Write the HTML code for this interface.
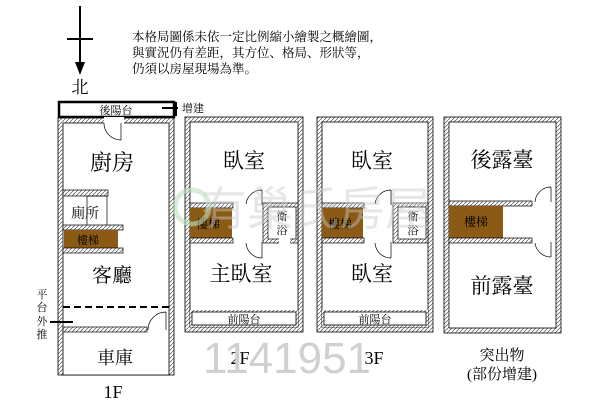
<!DOCTYPE html>
<html><head><meta charset="utf-8"><style>
html,body{margin:0;padding:0;background:#fff;width:600px;height:412px;overflow:hidden}
svg{display:block}
text{font-family:"Liberation Serif","Noto Serif CJK SC","Noto Sans CJK TC",serif;fill:#000}
</style></head><body>
<svg width="600" height="412" viewBox="0 0 600 412" xmlns="http://www.w3.org/2000/svg">
<defs>
<pattern id="h" width="4" height="4" patternUnits="userSpaceOnUse">
<rect width="4" height="4" fill="#fff"/>
<path d="M0,4 L4,0" stroke="#555" stroke-width="0.7"/>
</pattern>
</defs>

<line x1="80" y1="6" x2="80" y2="64" stroke="#000" stroke-width="2"/>
<line x1="67" y1="39" x2="93" y2="39" stroke="#000" stroke-width="2"/>
<polygon points="75,62 85,62 80,75" fill="#000"/>
<text x="80" y="93" font-size="17" text-anchor="middle">北</text>

<text x="132" y="41" font-size="12.5">本格局圖係未依一定比例縮小繪製之概繪圖，</text>
<text x="132" y="57" font-size="12.5">與實況仍有差距，其方位、格局、形狀等，</text>
<text x="132" y="73" font-size="12.5">仍須以房屋現場為準。</text>

<!-- 1F -->
<rect x="59" y="102" width="115" height="15" fill="#fff" stroke="#000" stroke-width="2.5"/>
<text x="116" y="114" font-size="11" text-anchor="middle">後陽台</text>
<line x1="162" y1="108" x2="178" y2="108" stroke="#000" stroke-width="2"/>
<line x1="176" y1="102" x2="176" y2="116" stroke="#000" stroke-width="2"/>
<text x="182" y="112" font-size="11">增建</text>

<rect x="58" y="118" width="116" height="257" fill="url(#h)" stroke="#000" stroke-width="0.8"/>
<rect x="63" y="123" width="106" height="252" fill="#fff" stroke="#000" stroke-width="0.8"/>
<rect x="104" y="117" width="20" height="7" fill="#fff"/>
<path d="M121,123 L121,140 A17,17 0 0 1 104,123" fill="none" stroke="#000" stroke-width="0.7"/>
<rect x="63" y="190" width="45" height="6" fill="url(#h)" stroke="#000" stroke-width="0.7"/>
<rect x="87" y="196" width="20" height="30" fill="none" stroke="#000" stroke-width="0.7"/>
<rect x="63" y="225" width="60" height="5" fill="url(#h)" stroke="#000" stroke-width="0.7"/>
<rect x="64" y="230" width="54" height="18" fill="#8b5a14"/>
<rect x="63" y="248" width="60" height="5" fill="url(#h)" stroke="#000" stroke-width="0.7"/>
<text x="85" y="218" font-size="14" text-anchor="middle">廁所</text>
<text x="88" y="244" font-size="11" text-anchor="middle">樓梯</text>
<text x="112" y="170" font-size="22" text-anchor="middle">廚房</text>
<text x="112" y="282" font-size="20" text-anchor="middle">客廳</text>
<line x1="63" y1="307" x2="169" y2="307" stroke="#000" stroke-width="2" stroke-dasharray="7,4"/>
<rect x="63" y="327" width="84" height="5" fill="url(#h)" stroke="#000" stroke-width="0.7"/>
<path d="M166,312 L166,330 M166,312 A18,18 0 0 0 148,330" fill="none" stroke="#000" stroke-width="0.7"/>
<line x1="50" y1="322" x2="73" y2="322" stroke="#000" stroke-width="2"/>
<text x="115" y="364" font-size="18" text-anchor="middle">車庫</text>
<text x="42" y="298" font-size="11" text-anchor="middle">平</text>
<text x="42" y="311" font-size="11" text-anchor="middle">台</text>
<text x="42" y="325" font-size="11" text-anchor="middle">外</text>
<text x="42" y="338" font-size="11" text-anchor="middle">推</text>
<text x="113" y="398" font-size="18" text-anchor="middle">1F</text>

<!-- 2F -->
<rect x="185" y="117" width="118" height="215" fill="url(#h)" stroke="#000" stroke-width="0.8"/>
<rect x="190" y="122" width="108" height="205" fill="#fff" stroke="#000" stroke-width="0.8"/>
<rect x="190" y="310" width="108" height="17" fill="url(#h)"/>
<rect x="192" y="312" width="104" height="13" fill="#fff" stroke="#000" stroke-width="0.8"/>
<text x="244" y="323" font-size="11" text-anchor="middle">前陽台</text>
<rect x="190" y="203" width="43" height="5" fill="url(#h)" stroke="#000" stroke-width="0.7"/>
<rect x="190" y="208" width="42" height="30" fill="#8b5a14"/>
<rect x="190" y="238" width="43" height="5" fill="url(#h)" stroke="#000" stroke-width="0.7"/>
<rect x="263" y="203" width="35" height="40" fill="url(#h)" stroke="#000" stroke-width="0.7"/>
<rect x="268" y="207" width="28" height="32" fill="#fff" stroke="#000" stroke-width="0.7"/>
<rect x="279" y="238" width="11" height="6" fill="#fff"/>
<path d="M262,190 L262,205 M262,190 A16,16 0 0 0 246,204 M262,242 L262,258 M262,258 A16,16 0 0 1 246,243" fill="none" stroke="#000" stroke-width="0.7"/>
<text x="208" y="228" font-size="12" text-anchor="middle">樓梯</text>
<text x="282" y="220" font-size="11" text-anchor="middle">衛</text>
<text x="282" y="234" font-size="11" text-anchor="middle">浴</text>
<text x="244" y="168" font-size="21" text-anchor="middle">臥室</text>
<text x="241" y="281" font-size="21" text-anchor="middle">主臥室</text>
<text x="240" y="364" font-size="18" text-anchor="middle">2F</text>

<!-- 3F -->
<rect x="317" y="117" width="116" height="215" fill="url(#h)" stroke="#000" stroke-width="0.8"/>
<rect x="322" y="122" width="106" height="205" fill="#fff" stroke="#000" stroke-width="0.8"/>
<rect x="322" y="310" width="106" height="17" fill="url(#h)"/>
<rect x="324" y="312" width="102" height="13" fill="#fff" stroke="#000" stroke-width="0.8"/>
<text x="375" y="323" font-size="11" text-anchor="middle">前陽台</text>
<rect x="322" y="203" width="42" height="5" fill="url(#h)" stroke="#000" stroke-width="0.7"/>
<rect x="322" y="208" width="41" height="30" fill="#8b5a14"/>
<rect x="322" y="238" width="42" height="5" fill="url(#h)" stroke="#000" stroke-width="0.7"/>
<rect x="393" y="203" width="35" height="40" fill="url(#h)" stroke="#000" stroke-width="0.7"/>
<rect x="398" y="207" width="28" height="32" fill="#fff" stroke="#000" stroke-width="0.7"/>
<path d="M391,190 L391,205 M391,190 A16,16 0 0 0 375,204 M391,242 L391,258 M391,258 A16,16 0 0 1 375,243" fill="none" stroke="#000" stroke-width="0.7"/>
<text x="340" y="228" font-size="12" text-anchor="middle">樓梯</text>
<text x="413" y="220" font-size="11" text-anchor="middle">衛</text>
<text x="413" y="234" font-size="11" text-anchor="middle">浴</text>
<text x="372" y="168" font-size="21" text-anchor="middle">臥室</text>
<text x="372" y="281" font-size="21" text-anchor="middle">臥室</text>
<text x="374" y="364" font-size="18" text-anchor="middle">3F</text>

<!-- Roof -->
<rect x="444" y="117" width="117" height="216" fill="url(#h)" stroke="#000" stroke-width="0.8"/>
<rect x="449" y="122" width="107" height="206" fill="#fff" stroke="#000" stroke-width="0.8"/>
<rect x="449" y="201" width="83" height="5" fill="url(#h)" stroke="#000" stroke-width="0.7"/>
<rect x="449" y="206" width="54" height="32" fill="#8b5a14"/>
<rect x="449" y="238" width="83" height="5" fill="url(#h)" stroke="#000" stroke-width="0.7"/>
<path d="M551,187 L551,202 M551,187 A16,16 0 0 0 535,202 M551,242 L551,257 M551,257 A16,16 0 0 1 535,243" fill="none" stroke="#000" stroke-width="0.7"/>
<text x="476" y="226" font-size="12" text-anchor="middle">樓梯</text>
<text x="502" y="167" font-size="21" text-anchor="middle">後露臺</text>
<text x="502" y="293" font-size="21" text-anchor="middle">前露臺</text>
<text x="502" y="360" font-size="15" text-anchor="middle">突出物</text>
<text x="502" y="379" font-size="15" text-anchor="middle">(部份增建)</text>

<!-- watermark (over plans) -->
<circle cx="192" cy="207" r="17" fill="none" stroke="#bfe0bf" stroke-width="5" opacity="0.6"/>
<text x="316" y="225" font-size="46" text-anchor="middle" style="fill:#c8c8c8;opacity:0.45;font-family:'Liberation Sans','Noto Sans CJK TC',sans-serif">有巢氏房屋</text>
<text x="203" y="373" font-size="44" style="fill:#d0d0d0;font-family:'Liberation Sans',sans-serif">1141951</text>
</svg>
</body></html>
